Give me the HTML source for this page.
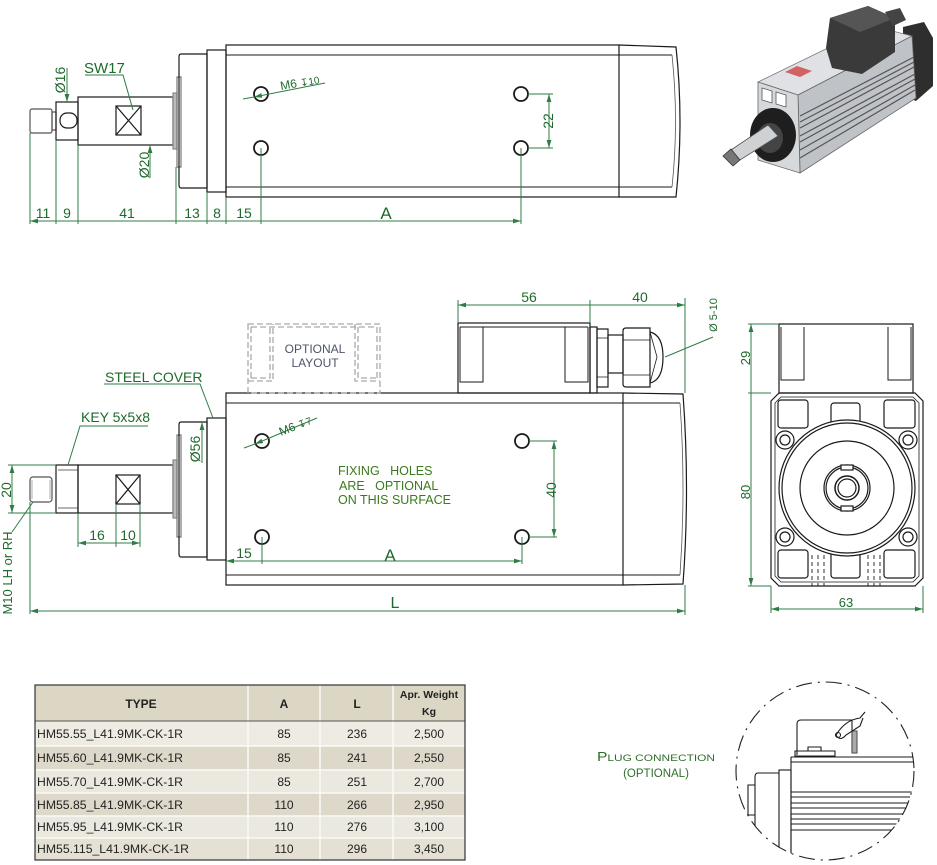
<!DOCTYPE html>
<html><head><meta charset="utf-8"><style>
html,body{margin:0;padding:0;background:#fff;}
svg{display:block;}
text{font-family:"Liberation Sans",sans-serif;}
</style></head><body>
<svg width="937" height="865" viewBox="0 0 937 865" xmlns="http://www.w3.org/2000/svg">
<defs>
<marker id="a" viewBox="0 0 10 6" refX="10" refY="3" markerWidth="8" markerHeight="4.8" orient="auto-start-reverse" markerUnits="userSpaceOnUse"><path d="M0,0 L10,3 L0,6z" fill="#2f7d45"/></marker>
<clipPath id="pc"><circle cx="825" cy="771" r="89"/></clipPath>
</defs>

<!-- ================= TOP VIEW ================= -->
<g fill="none" stroke="#1a1a1a" stroke-width="1.2">
  <rect x="30" y="109" width="22" height="24" rx="2" stroke="#555"/>
  <rect x="52" y="112" width="4" height="18" stroke="#555"/>
  <rect x="56" y="102" width="22" height="38"/>
  <rect x="60" y="113" width="17" height="15" rx="7"/>
  <rect x="78" y="97" width="95" height="48"/>
  <rect x="116" y="106" width="25" height="29"/>
  <path d="M116,106 L141,135 M141,106 L116,135"/>
  <rect x="173" y="93" width="4" height="56" fill="#bbb" stroke="#888"/>
  <rect x="177" y="77" width="4" height="90" stroke="#777"/>
  <path d="M181,54 L207,54 L207,188 L181,188 Q179,188 179,185 L179,57 Q179,54 181,54z"/>
  <rect x="207" y="50" width="19" height="142"/>
  <rect x="226" y="45" width="393" height="152"/>
  <path d="M226,55 L672,55 M226,187 L672,187" stroke-width="1"/>
  <path d="M619,45 L676,47 Q684,121 676,197 L619,197" />
  <path d="M672,55 Q679,121 672,187" stroke-width="0.8" stroke="#555"/>
  <circle cx="261" cy="94" r="7" stroke-width="1.8"/>
  <circle cx="261" cy="148" r="7" stroke-width="1.8"/>
  <circle cx="521" cy="94" r="7" stroke-width="1.8"/>
  <circle cx="521" cy="148" r="7" stroke-width="1.8"/>
</g>
<g fill="none" stroke="#2f7d45" stroke-width="1">
  <path d="M30,133 V224 M56,140 V224 M78,145 V224 M176,167 V224 M207,192 V224 M226,197 V224 M261,148 V224 M521,148 V224"/>
  <path d="M30,221 H56 M56,221 H78 M78,221 H176 M176,221 H207 M207,221 H226 M226,221 H261 M261,221 H521" marker-start="url(#a)" marker-end="url(#a)"/>
  <path d="M528,94 H553 M528,148 H553"/>
  <path d="M549,94 V148" marker-start="url(#a)" marker-end="url(#a)"/>
  <path d="M67,68 V102" marker-end="url(#a)"/>
  <path d="M150,178 V145" marker-end="url(#a)"/>
  <path d="M325,83 L254,97" marker-end="url(#a)"/>
  <path d="M254,97 L243,99"/>
  <path d="M85,75 H123 L133,110"/>
</g>
<g fill="#1e6a2c" font-size="14">
  <text x="43" y="218" text-anchor="middle">11</text>
  <text x="67" y="218" text-anchor="middle">9</text>
  <text x="127" y="218" text-anchor="middle">41</text>
  <text x="192" y="218" text-anchor="middle">13</text>
  <text x="217" y="218" text-anchor="middle">8</text>
  <text x="244" y="218" text-anchor="middle">15</text>
  <text x="386" y="219" text-anchor="middle" font-size="17">A</text>
  <text transform="translate(553,121) rotate(-90)" text-anchor="middle">22</text>
  <text transform="translate(65,80) rotate(-90)" text-anchor="middle">Ø16</text>
  <text transform="translate(149,165) rotate(-90)" text-anchor="middle">Ø20</text>
  <text x="84" y="73" font-size="15">SW17</text>
  <text transform="translate(281,90) rotate(-10)" font-size="12">M6 <tspan font-size="10">↧10</tspan></text>
</g>

<!-- photo -->
<g>
  <path d="M903,27 L924,22 L933,38 L933,86 L916,101 L903,96z" fill="#2e2e2e"/>
  <path d="M758,82 L798,95 L912,36 L873,26z" fill="#dfe1e4" stroke="#777" stroke-width="0.8"/>
  <path d="M798,95 L912,36 L916,98 L800,173z" fill="#bfc3c8" stroke="#666" stroke-width="0.8"/>
  <g stroke="#555" stroke-width="1.2">
    <path d="M800,116 L914,57 M800,122 L914,62 M800,128 L914,67 M800,136 L915,74 M800,142 L915,79 M800,150 L915,85 M800,158 L915,90"/>
  </g>
  <path d="M758,82 L798,95 L800,173 L758,160z" fill="#d6d9dc" stroke="#666" stroke-width="0.8"/>
  <path d="M762,88 L772,91 L772,103 L762,100z M776,92 L786,95 L786,107 L776,104z" fill="#fff" stroke="#555" stroke-width="0.8"/>
  <path d="M785,72 L800,77 L812,71 L797,66z" fill="#c44" opacity="0.8"/>
  <path d="M826,48 L830,18 L868,6 L895,18 L895,52 L862,74 L832,68z" fill="#3a3a3a"/>
  <path d="M830,18 L868,6 L895,18 L860,32z" fill="#555"/>
  <path d="M885,12 L900,8 L906,20 L893,26z" fill="#444"/>
  <ellipse cx="773" cy="135" rx="23" ry="27" fill="#1e1e1e"/>
  <ellipse cx="770" cy="138" rx="13" ry="15" fill="#444"/>
  <path d="M768,125 L778,136 L740,160 L731,150z" fill="#cfd2d5" stroke="#555" stroke-width="0.8"/>
  <path d="M731,149 L740,160 L733,166 L723,156z" fill="#777" stroke="#333" stroke-width="0.8"/>
</g>

<!-- ================= MIDDLE VIEW ================= -->
<g fill="none" stroke="#1a1a1a" stroke-width="1.2">
  <rect x="30" y="477" width="22" height="25" rx="3" stroke="#555"/>
  <path d="M32,480 V499 M50,480 V499" stroke="#999" stroke-width="0.8"/>
  <rect x="56" y="465" width="22" height="48"/>
  <path d="M58,470 H78 M58,508 H78" stroke="#888"/>
  <rect x="78" y="465" width="95" height="48"/>
  <rect x="116" y="475" width="24" height="29"/>
  <path d="M116,475 L140,504 M140,475 L116,504"/>
  <rect x="173" y="460" width="4" height="58" fill="#bbb" stroke="#888"/>
  <rect x="177" y="435" width="4" height="102" stroke="#777"/>
  <path d="M181,422 L207,422 L207,557 L181,557 Q179,557 179,554 L179,425 Q179,422 181,422z"/>
  <rect x="207" y="418" width="19" height="142"/>
  <rect x="226" y="393" width="397" height="192"/>
  <path d="M226,403 L680,403 M226,575 L680,575" stroke-width="1"/>
  <path d="M623,393 L683,394 Q690,489 683,584 L623,585"/>
  <path d="M680,403 Q686,489 680,575" stroke-width="0.8" stroke="#555"/>
  <circle cx="262" cy="441" r="7" stroke-width="1.8"/>
  <circle cx="262" cy="537" r="7" stroke-width="1.8"/>
  <circle cx="522" cy="441" r="7" stroke-width="1.8"/>
  <circle cx="522" cy="537" r="7" stroke-width="1.8"/>
  <!-- terminal box -->
  <rect x="458" y="323" width="132" height="70"/>
  <path d="M460,327 H588 M460,327 V382 H483 V327 M565,327 V382 H588 V327" stroke-width="1"/>
  <rect x="590" y="327" width="7" height="66"/>
  <rect x="597" y="329" width="11" height="58"/>
  <path d="M597,338 H608 M597,377 H608" stroke-width="0.8"/>
  <rect x="608" y="335" width="15" height="38"/>
  <path d="M623,331 Q623,328 626,328 L650,328 L650,387 L626,387 Q623,387 623,384z"/>
  <path d="M623,340 H650 M623,375 H650" stroke-width="0.8"/>
  <path d="M650,332 Q663,335 663,357 Q663,380 650,383"/>
  <path d="M650,332 L657,357 L650,383" stroke-width="0.8"/>
</g>
<!-- optional layout dashed -->
<g fill="none" stroke="#aaa" stroke-width="1.3" stroke-dasharray="6 3">
  <rect x="248" y="324" width="132" height="69"/>
  <path d="M251,327 H377"/>
  <path d="M248,381 H273 V324 M251,378 H270 V327 M355,324 V381 H380 M358,327 V378 H377"/>
  <path d="M251,327 V378 M377,327 V378"/>
</g>
<text x="315" y="353" text-anchor="middle" font-size="12" fill="#4e5468">OPTIONAL</text>
<text x="315" y="367" text-anchor="middle" font-size="12" fill="#4e5468">LAYOUT</text>

<g fill="none" stroke="#2f7d45" stroke-width="1">
  <path d="M458,300 V323 M590,300 V323 M685,298 V393 M685,585 V615 M30,502 V614"/>
  <path d="M458,305 H590 M590,305 H685" marker-start="url(#a)" marker-end="url(#a)"/>
  <path d="M665,357 L713,337"/>
  <path d="M529,441 H557 M529,537 H557"/>
  <path d="M554,441 V537" marker-start="url(#a)" marker-end="url(#a)"/>
  <path d="M262,537 V564 M522,537 V564"/>
  <path d="M226,561 H262 M262,561 H522" marker-start="url(#a)" marker-end="url(#a)"/>
  <path d="M30,611 H685" marker-start="url(#a)" marker-end="url(#a)"/>
  <path d="M8,465 H56 M8,513 H56"/>
  <path d="M12,465 V513" marker-start="url(#a)" marker-end="url(#a)"/>
  <path d="M78,513 V547 M116,504 V547 M140,504 V547"/>
  <path d="M78,543 H116 M116,543 H140" marker-start="url(#a)" marker-end="url(#a)"/>
  <path d="M33,502 L12,532"/>
  <path d="M202,463 V422" marker-end="url(#a)"/>
  <path d="M104,384 H200 L213,418"/>
  <path d="M148,426 H80 L68,465"/>
  <path d="M317,418 L255,444" marker-end="url(#a)"/>
  <path d="M255,444 L244,448"/>
</g>
<g fill="#1e6a2c" font-size="14">
  <text x="529" y="302" text-anchor="middle">56</text>
  <text x="640" y="302" text-anchor="middle">40</text>
  <text transform="translate(717,315) rotate(-90)" text-anchor="middle" font-size="11">Ø 5-10</text>
  <text transform="translate(556,490) rotate(-90)" text-anchor="middle">40</text>
  <text x="244" y="558" text-anchor="middle">15</text>
  <text x="390" y="561" text-anchor="middle" font-size="17">A</text>
  <text x="395" y="608" text-anchor="middle" font-size="16">L</text>
  <text transform="translate(11,490) rotate(-90)" text-anchor="middle">20</text>
  <text x="97" y="540" text-anchor="middle">16</text>
  <text x="128" y="540" text-anchor="middle">10</text>
  <text transform="translate(12,573) rotate(-90)" text-anchor="middle" font-size="13">M10 LH or RH</text>
  <text transform="translate(200,449) rotate(-90)" text-anchor="middle">Ø56</text>
  <text x="105" y="382" font-size="14">STEEL COVER</text>
  <text x="81" y="422" font-size="14">KEY 5x5x8</text>
  <text transform="translate(281,436) rotate(-22)" font-size="12">M6 <tspan font-size="10">↧7</tspan></text>
</g>
<g fill="#3a7a1c" font-size="12.5">
  <text x="338" y="475" xml:space="preserve">FIXING   HOLES</text>
  <text x="339" y="490" xml:space="preserve">ARE   OPTIONAL</text>
  <text x="338" y="504">ON THIS SURFACE</text>
</g>

<!-- ================= END VIEW ================= -->
<g fill="none" stroke="#1a1a1a" stroke-width="1.2">
  <rect x="779" y="324" width="134" height="69"/>
  <path d="M781,327 V380 H804 V327 M888,327 V380 H911 V327" stroke-width="1"/>
  <path d="M779,393 L915,393 L923,401 L923,578 L915,586 L779,586 L771,578 L771,401z"/>
  <path d="M781,397 L913,397 L919,403 L919,576 L913,582 L781,582 L775,576 L775,403z" stroke-width="0.8"/>
  <rect x="778" y="400" width="30" height="28" rx="3"/>
  <rect x="831" y="403" width="29" height="25" rx="3"/>
  <rect x="884" y="400" width="31" height="28" rx="3"/>
  <rect x="778" y="550" width="30" height="28" rx="3"/>
  <rect x="831" y="552" width="29" height="26" rx="3"/>
  <rect x="884" y="550" width="31" height="28" rx="3"/>
  <circle cx="847" cy="488" r="68" fill="#fff"/>
  <circle cx="847" cy="488" r="65"/>
  <circle cx="847" cy="488" r="47"/>
  <circle cx="847" cy="488" r="23"/>
  <circle cx="847" cy="488" r="21"/>
  <rect x="841" y="465" width="12" height="5" fill="#fff"/>
  <rect x="841" y="506" width="12" height="5" fill="#fff"/>
  <circle cx="847" cy="488" r="12" stroke-width="1.5"/>
  <circle cx="847" cy="488" r="9"/>
  <circle cx="785" cy="440" r="9" fill="#fff"/><circle cx="785" cy="440" r="5"/>
  <circle cx="908" cy="440" r="9" fill="#fff"/><circle cx="908" cy="440" r="5"/>
  <circle cx="785" cy="537" r="9" fill="#fff"/><circle cx="785" cy="537" r="5"/>
  <circle cx="908" cy="537" r="9" fill="#fff"/><circle cx="908" cy="537" r="5"/>
  <path d="M812,555 V586 M818,555 V586 M824,555 V586 M868,555 V586 M874,555 V586 M880,555 V586" stroke-dasharray="4 3" stroke-width="0.9"/>
</g>
<g fill="none" stroke="#2f7d45" stroke-width="1">
  <path d="M748,324 H779 M748,393 H771 M748,586 H771 M771,586 V613 M923,586 V613"/>
  <path d="M751,324 V393 M751,393 V586" marker-start="url(#a)" marker-end="url(#a)"/>
  <path d="M771,609 H923" marker-start="url(#a)" marker-end="url(#a)"/>
</g>
<g fill="#1e6a2c" font-size="13">
  <text transform="translate(750,358) rotate(-90)" text-anchor="middle">29</text>
  <text transform="translate(750,492) rotate(-90)" text-anchor="middle">80</text>
  <text x="846" y="607" text-anchor="middle">63</text>
</g>

<!-- ================= TABLE ================= -->
<g>
  <rect x="35" y="685" width="430" height="36" fill="#dcd6c4"/>
  <rect x="35" y="721" width="430" height="25" fill="#eeebe3"/>
  <rect x="35" y="746" width="430" height="24" fill="#ddd8c9"/>
  <rect x="35" y="770" width="430" height="23" fill="#ebe8df"/>
  <rect x="35" y="793" width="430" height="23" fill="#ddd8c9"/>
  <rect x="35" y="816" width="430" height="22" fill="#ebe8df"/>
  <rect x="35" y="838" width="430" height="22" fill="#e4e0d4"/>
  <g stroke="#fafaf7" stroke-width="1.5">
    <path d="M35,746 H465 M35,770 H465 M35,793 H465 M35,816 H465 M35,838 H465"/>
    <path d="M248,685 V860 M320,685 V860 M393,685 V860"/>
  </g>
  <path d="M35,721 H465" stroke="#555" stroke-width="1"/>
  <rect x="35" y="685" width="430" height="175" fill="none" stroke="#333" stroke-width="1.2"/>
  <g font-weight="bold" fill="#222" text-anchor="middle">
    <text x="141" y="708" font-size="12">TYPE</text>
    <text x="284" y="708" font-size="12">A</text>
    <text x="357" y="708" font-size="12">L</text>
    <text x="429" y="698" font-size="10.5">Apr. Weight</text>
    <text x="429" y="715" font-size="10.5">Kg</text>
  </g>
  <g font-size="12" fill="#222">
    <text x="37" y="738" textLength="146" lengthAdjust="spacingAndGlyphs">HM55.55_L41.9MK-CK-1R</text>
    <text x="37" y="762" textLength="146" lengthAdjust="spacingAndGlyphs">HM55.60_L41.9MK-CK-1R</text>
    <text x="37" y="786" textLength="146" lengthAdjust="spacingAndGlyphs">HM55.70_L41.9MK-CK-1R</text>
    <text x="37" y="809" textLength="146" lengthAdjust="spacingAndGlyphs">HM55.85_L41.9MK-CK-1R</text>
    <text x="37" y="831" textLength="146" lengthAdjust="spacingAndGlyphs">HM55.95_L41.9MK-CK-1R</text>
    <text x="37" y="853" textLength="152" lengthAdjust="spacingAndGlyphs">HM55.115_L41.9MK-CK-1R</text>
  </g>
  <g font-size="12" fill="#222" text-anchor="middle">
    <text x="284" y="738">85</text><text x="357" y="738">236</text><text x="429" y="738">2,500</text>
    <text x="284" y="762">85</text><text x="357" y="762">241</text><text x="429" y="762">2,550</text>
    <text x="284" y="786">85</text><text x="357" y="786">251</text><text x="429" y="786">2,700</text>
    <text x="284" y="809">110</text><text x="357" y="809">266</text><text x="429" y="809">2,950</text>
    <text x="284" y="831">110</text><text x="357" y="831">276</text><text x="429" y="831">3,100</text>
    <text x="284" y="853">110</text><text x="357" y="853">296</text><text x="429" y="853">3,450</text>
  </g>
</g>

<!-- ================= PLUG CONNECTION ================= -->
<text x="597" y="761" font-size="9.5" fill="#2f6e2a" textLength="118" lengthAdjust="spacingAndGlyphs"><tspan font-size="12.5">P</tspan>LUG  CONNECTION</text>
<text x="656" y="777" text-anchor="middle" font-size="11.5" fill="#2f6e2a">(OPTIONAL)</text>
<circle cx="825" cy="771" r="89" fill="none" stroke="#222" stroke-width="1.1" stroke-dasharray="16 6 2 6"/>
<g clip-path="url(#pc)" fill="none" stroke="#1a1a1a" stroke-width="1.1">
  <path d="M791,757 H918 M791,762 H918 M791,757 V870"/>
  <path d="M791,792 H918 M791,797 H918 M791,803 H918 M791,808 H918 M791,814 H918 M791,819 H918 M791,824 H918 M791,830 H918" stroke-width="1"/>
  <rect x="779" y="770" width="12" height="100"/>
  <path d="M779,773 L758,773 Q755,773 755,777 L755,870"/>
  <path d="M755,785 H748 V815 H755"/>
  <path d="M797,755 V724 Q797,720 801,720 L852,720 L852,751"/>
  <path d="M795,751 H835 V756 H795z"/>
  <path d="M808,751 V747 H821 V751"/>
  <rect x="852" y="731" width="5" height="22" fill="#aaa" stroke="#555"/>
  <path d="M836,735 Q845,720 860,718 L865,712 M836,735 Q840,742 846,735 L860,726 L863,718"/>
  <circle cx="838" cy="735" r="2.5"/>
</g>
</svg>
</body></html>
